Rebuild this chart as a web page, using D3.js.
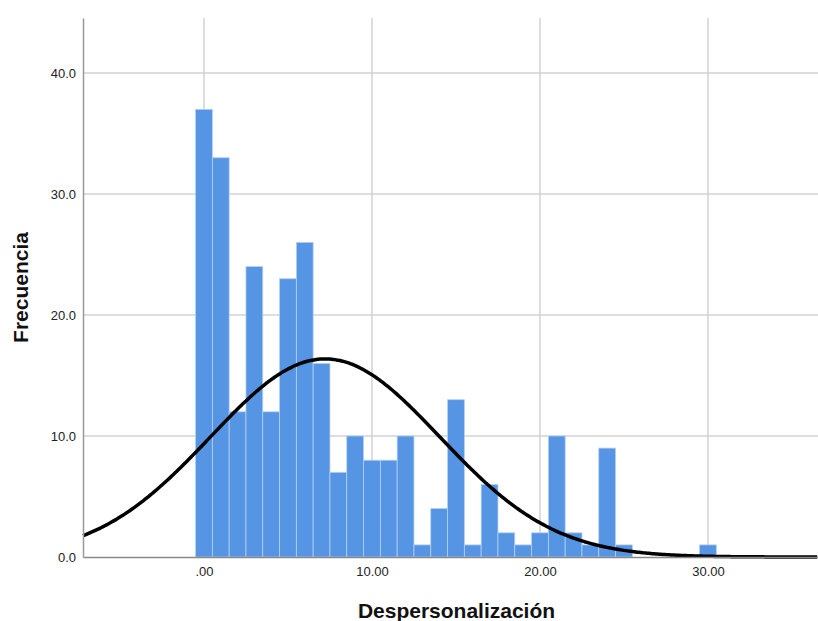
<!DOCTYPE html>
<html>
<head>
<meta charset="utf-8">
<script src="https://cdn.jsdelivr.net/npm/d3@7"></script>
<style>
  body { margin: 0; background: #fff; }
  svg { display: block; font-family: Arial, "Liberation Sans", sans-serif; }
</style>
</head>
<body>
<svg></svg>
<script>
// Histogram bins (centre value) and counts
const binCenters = [0, 1, 2, 3, 4, 5, 6, 7, 8, 9, 10, 11, 12, 13, 14, 15, 16, 17, 18, 19, 20, 21, 22, 23, 24, 25, 30];
const counts     = [37, 33, 12, 24, 12, 23, 26, 16, 7, 10, 8, 8, 10, 1, 4, 13, 1, 6, 2, 1, 2, 10, 2, 1, 9, 1, 1];
const xTicks = [0, 10, 20, 30];
const yTicks = [0, 10, 20, 30, 40];
const xTitle = "Despersonalización";
const yTitle = "Frecuencia";

const width = 818,
  height = 621,
  plotL = 83,
  plotR = 818,
  plotT = 18,
  plotB = 557;

const svg = d3.select("svg")
  .attr("width", width)
  .attr("height", height);

const x = d3.scaleLinear().domain([-7.2, 36.55]).range([plotL, plotR]);
const y = d3.scaleLinear().domain([0, 44.55]).range([plotB, plotT]);

// grid
svg.append("g")
  .selectAll("line")
  .data(yTicks.filter(d => d > 0))
  .join("line")
  .attr("x1", plotL).attr("x2", plotR)
  .attr("y1", d => y(d)).attr("y2", d => y(d))
  .attr("stroke", "#d2d2d2").attr("stroke-width", 1.5);

svg.append("g")
  .selectAll("line")
  .data(xTicks)
  .join("line")
  .attr("x1", d => x(d)).attr("x2", d => x(d))
  .attr("y1", plotT).attr("y2", plotB)
  .attr("stroke", "#d2d2d2").attr("stroke-width", 1.5);

// bars
const bins = binCenters.map((c, i) => ({c: c, n: counts[i]}));
svg.append("g")
  .selectAll("rect")
  .data(bins)
  .join("rect")
  .attr("x", d => x(d.c - 0.5))
  .attr("width", d => x(d.c + 0.5) - x(d.c - 0.5))
  .attr("y", d => y(d.n))
  .attr("height", d => y(0) - y(d.n))
  .attr("fill", "#5595e3")
  .attr("stroke", "#b4d0f2")
  .attr("stroke-width", 0.8);

// normal curve from data
const N = d3.sum(counts);
const mean = d3.sum(bins, d => d.c * d.n) / N;
const sd = Math.sqrt(d3.sum(bins, d => d.n * (d.c - mean) ** 2) / (N - 1));
const curvePts = d3.range(x.domain()[0], x.domain()[1] + 0.01, 0.1).map(v => ({
  v: v,
  f: N / (sd * Math.sqrt(2 * Math.PI)) * Math.exp(-0.5 * ((v - mean) / sd) ** 2)
}));
svg.append("path")
  .datum(curvePts)
  .attr("fill", "none")
  .attr("stroke", "#000")
  .attr("stroke-width", 3.5)
  .attr("d", d3.line().x(d => x(d.v)).y(d => y(d.f)).curve(d3.curveBasis));

// axes
const fmtX = d => d === 0 ? ".00" : d3.format(".2f")(d);
const xAxis = svg.append("g")
  .attr("transform", `translate(0,${plotB})`)
  .call(d3.axisBottom(x).tickValues(xTicks).tickSize(0).tickPadding(10).tickFormat(fmtX));
xAxis.select(".domain").attr("stroke", "#888").attr("stroke-width", 1.5);
xAxis.selectAll("text").attr("font-size", 13).attr("fill", "#222");

const yAxis = svg.append("g")
  .attr("transform", `translate(${plotL},0)`)
  .call(d3.axisLeft(y).tickValues(yTicks).tickSize(0).tickPadding(7).tickFormat(d3.format(".1f")));
yAxis.select(".domain").attr("stroke", "#999").attr("stroke-width", 1.5);
yAxis.selectAll("text").attr("font-size", 13).attr("fill", "#222");

// titles
svg.append("text")
  .attr("x", (plotL + plotR) / 2 + 6)
  .attr("y", 618)
  .attr("text-anchor", "middle")
  .attr("font-size", 21)
  .attr("font-weight", "bold")
  .attr("fill", "#111")
  .text(xTitle);

svg.append("text")
  .attr("transform", `translate(28,${(plotT + plotB) / 2}) rotate(-90)`)
  .attr("text-anchor", "middle")
  .attr("font-size", 21)
  .attr("font-weight", "bold")
  .attr("fill", "#111")
  .text(yTitle);
</script>
</body>
</html>
